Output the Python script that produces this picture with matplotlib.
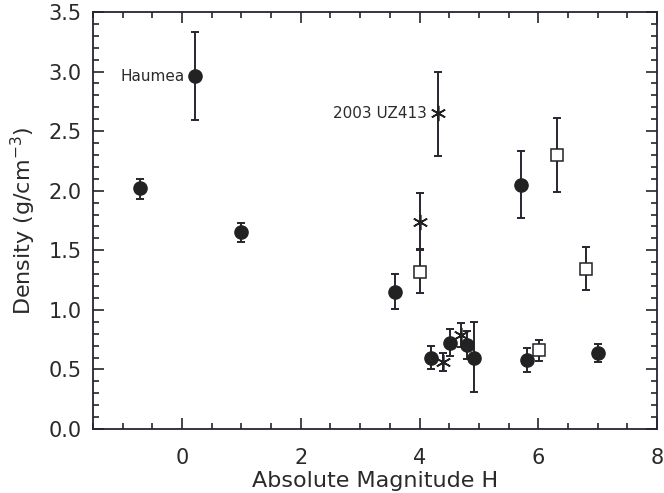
import matplotlib
matplotlib.use("Agg")
import matplotlib.pyplot as plt
from matplotlib.ticker import MultipleLocator, FormatStrFormatter

# Filled circles
circ_x = [-0.70, 0.22, 1.00, 3.59, 4.20, 4.51, 4.80, 4.91, 5.71, 5.81, 7.01]
circ_y = [2.02, 2.96, 1.65, 1.15, 0.60, 0.72, 0.705, 0.60, 2.05, 0.58, 0.635]
circ_lo = [0.09, 0.37, 0.08, 0.14, 0.10, 0.11, 0.115, 0.29, 0.28, 0.10, 0.07]
circ_hi = [0.08, 0.37, 0.08, 0.15, 0.10, 0.12, 0.115, 0.30, 0.28, 0.10, 0.075]

# Asterisks
star_x = [4.00, 4.31, 4.40, 4.70]
star_y = [1.74, 2.65, 0.56, 0.79]
star_lo = [0.24, 0.36, 0.07, 0.10]
star_hi = [0.24, 0.35, 0.08, 0.10]

# Open squares
sq_x = [4.00, 6.01, 6.31, 6.81]
sq_y = [1.32, 0.66, 2.30, 1.34]
sq_lo = [0.18, 0.09, 0.31, 0.17]
sq_hi = [0.19, 0.09, 0.31, 0.19]

labels = ["Haumea", "2003 UZ413"]

fig = plt.figure(figsize=(6.64, 4.93), dpi=100)
ax = fig.add_axes([93/664, 1-429/493, (657-93)/664, (429-12)/493])

lc = "#2a2230"
mc = "#222222"
tc = "#2a2a2a"
ekw = dict(fmt="none", ecolor=lc, elinewidth=1.4, capsize=3, capthick=1.4, zorder=2)

ax.errorbar(circ_x, circ_y, yerr=[circ_lo, circ_hi], **ekw)
ax.errorbar(star_x, star_y, yerr=[star_lo, star_hi], **ekw)
ax.errorbar(sq_x, sq_y, yerr=[sq_lo, sq_hi], **ekw)

ax.plot(circ_x, circ_y, "o", ms=9.5, color=mc, zorder=3)
ax.plot(star_x, star_y, ls="none", marker=(6, 2, 0), ms=11, mew=1.2, color=mc, zorder=3)
ax.plot(sq_x, sq_y, "s", ms=8, mfc="white", mec=mc, mew=1.1, zorder=3)

ax.text(circ_x[1] - 0.18, circ_y[1], labels[0], ha="right", va="center", fontsize=11, color=tc)
ax.text(star_x[1] - 0.18, star_y[1], labels[1], ha="right", va="center", fontsize=11, color=tc)

ax.set_xlim(-1.5, 8)
ax.set_ylim(0, 3.5)
ax.xaxis.set_major_locator(MultipleLocator(2))
ax.xaxis.set_minor_locator(MultipleLocator(0.5))
ax.yaxis.set_major_locator(MultipleLocator(0.5))
ax.yaxis.set_minor_locator(MultipleLocator(0.1))
ax.tick_params(which="both", direction="in", top=True, right=True, color=lc, width=1.2)
ax.tick_params(which="major", length=8, labelsize=15, labelcolor=tc)
ax.tick_params(axis="x", which="major", pad=14)
ax.tick_params(axis="y", which="major", pad=8)
ax.tick_params(which="minor", length=4)
ax.yaxis.set_major_formatter(FormatStrFormatter("%.1f"))
for s in ax.spines.values():
    s.set_color(lc)
    s.set_linewidth(1.3)

ax.set_xlabel("Absolute Magnitude H", fontsize=16, color=tc, labelpad=2)
ax.set_ylabel("Density (g/cm$^{-3}$)", fontsize=16, color=tc, labelpad=8)

fig.savefig("out.png", dpi=100)
